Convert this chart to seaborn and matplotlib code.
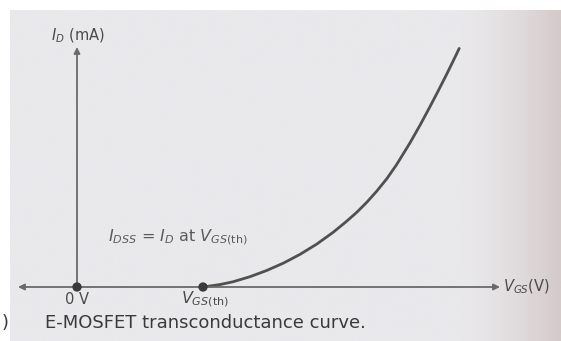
import numpy as np
import pandas as pd
import matplotlib
matplotlib.use("Agg")
import matplotlib.pyplot as plt
import seaborn as sns

# Transfer characteristic of an enhancement MOSFET (arbitrary units)
vgs = [3.00, 3.40, 3.72, 4.12, 4.52, 4.92, 5.31, 5.71, 6.10, 6.40, 6.66,
       6.90, 7.14, 7.38, 7.61, 7.93, 8.17, 8.40, 8.60, 8.80, 8.96, 9.10]
i_d = [0.00, 0.10, 0.22, 0.43, 0.69, 1.00, 1.36, 1.79, 2.28, 2.71, 3.11,
       3.53, 4.00, 4.52, 5.10, 6.01, 6.75, 7.50, 8.17, 8.86, 9.43, 9.94]
v_origin = 0.0
v_threshold = 3.0

axis_labels = {"y": r"$I_D$ (mA)", "x": r"$V_{GS}$(V)"}
tick_labels = {"origin": "0 V", "threshold": r"$V_{GS\mathrm{(th)}}$"}
note = r"$I_{DSS}$ = $I_D$ at $V_{GS\mathrm{(th)}}$"
caption = "E-MOSFET transconductance curve."

sns.set_theme(style="white")
plt.rcParams["font.family"] = ["DejaVu Sans"]
plt.rcParams["mathtext.fontset"] = "dejavusans"

W, H = 561, 341
fig = plt.figure(figsize=(W / 100, H / 100), dpi=100)
fig.patch.set_facecolor("white")

# paper background with darker tint toward the page fold on the right
bg = fig.add_axes([10 / W, 0, 1 - 10 / W, 1 - 10 / H])
bg.set_axis_off()
g = np.linspace(0, 1, 256)
t = np.clip((g - 0.82) / 0.18, 0, 1) ** 1.5
base = np.array([233, 232, 235]) / 255
edge = np.array([212, 202, 202]) / 255
row = base[None, :] * (1 - t[:, None]) + edge[None, :] * t[:, None]
bg.imshow(row[None, :, :], aspect="auto", extent=[0, 1, 0, 1])
bg.set_xlim(0, 1)
bg.set_ylim(0, 1)

ax = fig.add_axes([0, 0, 1, 1])
ax.patch.set_alpha(0)
ax.set_axis_off()
sx, sy = 42.0, 24.0
x0px, y0px = 77.0, 287.0
ax.set_xlim(-x0px / sx, (W - x0px) / sx)
ax.set_ylim(-(H - y0px) / sy, y0px / sy)

axis_col = "#6a6a6a"
ink = "#4a4a4a"
arrow = dict(arrowstyle="-|>", color=axis_col, lw=1.3,
             mutation_scale=9, shrinkA=0, shrinkB=0)

# horizontal axis (arrows both ends)
xl, xr = (18 - x0px) / sx, (500 - x0px) / sx
ax.annotate("", xy=(xl, 0), xytext=(v_origin, 0), arrowprops=arrow)
ax.annotate("", xy=(xr, 0), xytext=(v_origin, 0), arrowprops=arrow)
# vertical axis
ytop = (y0px - 47) / sy
ax.annotate("", xy=(v_origin, ytop), xytext=(v_origin, 0), arrowprops=arrow)

df = pd.DataFrame({"vgs": vgs, "id": i_d})
sns.lineplot(data=df, x="vgs", y="id", ax=ax, color="#505050", lw=2.0,
             sort=True, legend=False)
sns.scatterplot(x=[v_origin, v_threshold], y=[0, 0], ax=ax, color="#3a3a3a",
                s=45, edgecolor="none", zorder=5, legend=False)

ax.text(v_origin + 1 / sx, (y0px - 36) / sy, axis_labels["y"], ha="center",
        va="center", fontsize=10.5, color=ink)
ax.text((503 - x0px) / sx, 0.0, axis_labels["x"], ha="left", va="center",
        fontsize=10.5, color=ink)
ax.text(v_origin, -12 / sy, tick_labels["origin"], ha="center", va="center",
        fontsize=10.5, color=ink)
ax.text(v_threshold + 2 / sx, -12 / sy, tick_labels["threshold"], ha="center",
        va="center", fontsize=11.5, color=ink)
ax.text((108 - x0px) / sx, (y0px - 237) / sy, note, ha="left", va="center",
        fontsize=11.5, color="#5a5a5a")
ax.text((45 - x0px) / sx, (y0px - 323) / sy, caption, ha="left", va="center",
        fontsize=13, color="#3a3a3a")
ax.text((2 - x0px) / sx, (y0px - 323) / sy, ")", ha="left", va="center",
        fontsize=13, color="#3a3a3a")

fig.savefig("out.png", dpi=100)
